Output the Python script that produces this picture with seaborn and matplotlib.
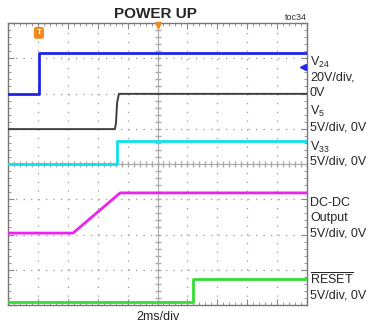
import matplotlib
matplotlib.use("Agg")
import matplotlib.pyplot as plt
import seaborn as sns
import numpy as np

# tempo em ms (2ms/div, 10 divisões) e níveis em divisões (0..8)
t_v24 = [0, 2.07, 2.07, 20]
y_v24 = [6.0, 6.0, 7.16, 7.16]

t_v5 = [0, 7.15, 7.22, 7.3, 7.42, 20]
y_v5 = [4.99, 4.99, 5.15, 5.75, 5.99, 5.99]

t_v33 = [0, 7.3, 7.3, 20]
y_v33 = [4.0, 4.0, 4.65, 4.65]

t_dcdc = [0, 4.35, 7.5, 20]
y_dcdc = [2.04, 2.04, 3.18, 3.18]

t_reset = [0, 12.4, 12.4, 20]
y_reset = [0.08, 0.08, 0.74, 0.74]

cores = ["#1f24e6", "#404040", "#10e0ec", "#ee22ee", "#33dd33"]

sns.set_style("white")
plt.rcParams['font.family'] = ['Liberation Sans', 'DejaVu Sans']
plt.rcParams['mathtext.fontset'] = 'custom'
plt.rcParams['mathtext.rm'] = 'Liberation Sans'
plt.rcParams['mathtext.it'] = 'Liberation Sans'

fig = plt.figure(figsize=(3.69, 3.27), dpi=100)
ax = fig.add_axes([8 / 369, 22 / 327, 299 / 369, 282 / 327])
ax.set_xlim(0, 20)
ax.set_ylim(0, 8)

# Grade pontilhada
for gx in np.arange(2, 20, 2):
    ax.axvline(gx, color="#999999", lw=0.9, ls=(0, (1, 6)), zorder=1)
for gy in np.arange(1, 8, 1):
    ax.axhline(gy, color="#999999", lw=0.9, ls=(0, (1, 5)), zorder=1)

# Eixos centrais com marcações
ax.axvline(10, color="#aaaaaa", lw=0.8, zorder=1)
ax.axhline(4, color="#aaaaaa", lw=0.8, zorder=1)
mx = np.arange(0, 20.01, 0.4)
my = np.arange(0, 8.01, 0.2)
ax.plot(mx, np.full_like(mx, 4), ls="none", marker="|", ms=4, color="#aaaaaa", zorder=1)
ax.plot(np.full_like(my, 10), my, ls="none", marker="_", ms=4, color="#aaaaaa", zorder=1)

# Traços
traces = [(t_v24, y_v24), (t_v5, y_v5), (t_v33, y_v33),
          (t_dcdc, y_dcdc), (t_reset, y_reset)]
for (tx, ty), cor in zip(traces, cores):
    sns.lineplot(x=tx, y=ty, ax=ax, color=cor, linewidth=2.0,
                 estimator=None, sort=False, zorder=3)
# V5 é mais fino
ax.lines[-4].set_linewidth(1.4)

# Bordas
for s in ax.spines.values():
    s.set_color("#777777")
    s.set_linewidth(1.0)
ax.set_xticks(np.arange(0, 21, 2))
ax.set_yticks(np.arange(0, 9, 1))
ax.set_xticks(np.arange(0, 20.01, 0.4), minor=True)
ax.set_yticks(np.arange(0, 8.01, 0.2), minor=True)
ax.tick_params(which="both", direction="in", top=True, right=True,
               bottom=True, left=True, labelbottom=False, labelleft=False,
               color="#888888")
ax.tick_params(which="major", length=4)
ax.tick_params(which="minor", length=2)
ax.set_xlabel("")
ax.set_ylabel("")

# Marcadores do osciloscópio
ax.text(2.07, 7.72, "T", color="white", fontsize=6, fontweight="bold",
        ha="center", va="center",
        bbox=dict(boxstyle="round,pad=0.3", fc="#f08a20", ec="none"), zorder=5)
ax.plot([10], [7.93], marker="v", ms=5, color="#f08a20", clip_on=False, zorder=5)
ax.plot([19.7], [6.75], marker="<", ms=4, color="#1f24e6", zorder=5)

# Textos
fig.text(155 / 369, 1 - 14 / 327, "POWER UP", ha="center", va="center",
         fontsize=11, fontweight="bold")
fig.text(307 / 369, 1 - 18 / 327, "toc34", ha="right", va="center",
         fontsize=6.5, color="#333333")
fig.text(158 / 369, 1 - 317 / 327, "2ms/div", ha="center", va="center",
         fontsize=9)

lx = 310 / 369
fs = 9
labels = [
    (62, r"V$_{24}$"), (78, "20V/div,"), (93, "0V"),
    (111, r"V$_{5}$"), (127, "5V/div, 0V"),
    (147, r"V$_{33}$"), (162, "5V/div, 0V"),
    (203, "DC-DC"), (218, "Output"), (233, "5V/div, 0V"),
    (280, r"$\overline{\mathrm{RESET}}$"), (296, "5V/div, 0V"),
]
for py, txt in labels:
    fig.text(lx, 1 - py / 327, txt, ha="left", va="center", fontsize=fs)

fig.savefig("out.png", dpi=100)
